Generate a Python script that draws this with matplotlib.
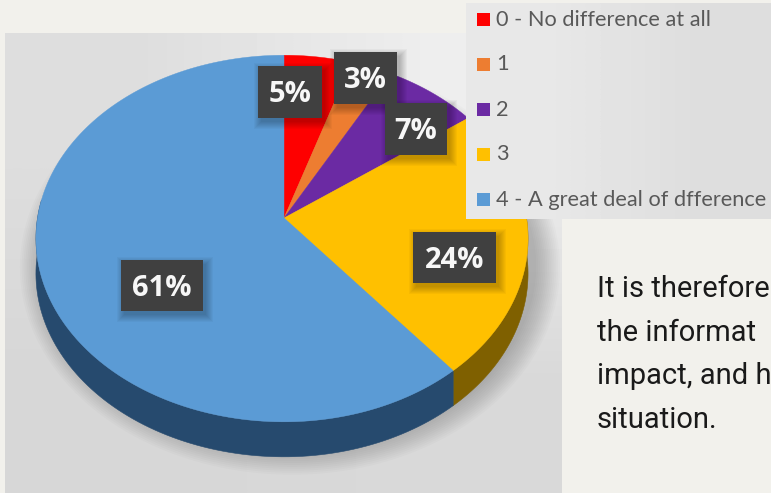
import numpy as np
import matplotlib
matplotlib.use("Agg")
import matplotlib.pyplot as plt
from matplotlib.patches import Polygon, Rectangle

# Survey responses
categories = ["0 - No difference at all", "1", "2", "3", "4 - A great deal of dfference"]
shares = [5, 3, 7, 24, 61]
share_labels = ["5%", "3%", "7%", "24%", "61%"]
slice_colors = ["#fe0000", "#ed7d31", "#6b2aa3", "#ffc000", "#5b9bd5"]
side_colors = ["#7f0000", "#77401a", "#38185a", "#7f6000", "#264a6e"]
body_lines = ["It is therefore", "the informat", "impact, and h", "situation."]

W, H = 771, 493
PAGE = "#f2f1ec"
APEX_X, APEX_Y = 284, 218
SCALE_LEFT, SCALE_RIGHT, SCALE_Y, PERSP = 246.5, 242.5, 181, 0.112
DEPTH = 35

# Centre and half-size of each value tag, in slice order
tag_centres = [(290, 92), (365.5, 78), (416, 129), (454.5, 257.5), (162, 285.5)]
tag_half = [(32, 26), (31.5, 26), (31, 26), (41.5, 25.5), (41, 25.5)]


def rim(theta):
    """Project angles (clockwise from 12 o'clock) onto the tilted disc's edge."""
    u, v = np.sin(theta), np.cos(theta)
    w = 1 + PERSP * v
    sx = np.where(u >= 0, SCALE_RIGHT, SCALE_LEFT)
    return APEX_X + sx * u / w, APEX_Y - SCALE_Y * v / w


def gradient(ax, box, corners, z):
    """Fill box=(x0,x1,y0,y1) with a bilinear blend of four grey levels."""
    x0, x1, y0, y1 = box
    ax.imshow(np.array(corners).reshape(2, 2), cmap="gray", vmin=0, vmax=1,
              extent=(x0, x1, y1, y0), interpolation="bilinear", aspect="auto", zorder=z)


def soft_shadow(ax, xs, ys, dx, dy, spread, alpha, z, steps=14):
    """Layered translucent outlines that build up a blurred drop shadow."""
    cx, cy = xs.mean(), ys.mean()
    rx, ry = np.ptp(xs) / 2, np.ptp(ys) / 2
    for i in range(steps):
        grow = spread * (1 - i / (steps - 1))
        sx, sy = (rx + grow) / rx, (ry + grow) / ry
        ax.add_patch(Polygon(np.c_[cx + dx + (xs - cx) * sx, cy + dy + (ys - cy) * sy],
                             closed=True, fc="black", ec="none", alpha=alpha, zorder=z))


fig = plt.figure(figsize=(W / 100, H / 100), dpi=100, facecolor=PAGE)
ax = fig.add_axes([0, 0, 1, 1])
ax.set_axis_off()

# Chart backdrop
gradient(ax, (5, 562, 33, 493), [0.87, 0.93, 0.84, 0.85], 1)

# Pie body: drop shadow, then the extruded side wall, then the top slices
edges = np.radians(np.r_[0, np.cumsum(shares)] * 3.6)
full = np.linspace(0, 2 * np.pi, 360)
ox, oy = rim(full)
soft_shadow(ax, ox, oy + DEPTH / 2, 8, 10, 24, 0.017, 2)

for a, b, col in zip(edges[:-1], edges[1:], side_colors):
    t = np.linspace(a, b, 160)
    t = t[np.cos(t) <= 0.12]
    if t.size < 2:
        continue
    x, y = rim(t)
    wall = np.r_[np.c_[x, y], np.c_[x, y + DEPTH][::-1]]
    ax.add_patch(Polygon(wall, closed=True, fc=col, ec=col, lw=0.4, zorder=3))

for a, b, col in zip(edges[:-1], edges[1:], slice_colors):
    x, y = rim(np.linspace(a, b, 160))
    pts = np.r_[[(APEX_X, APEX_Y)], np.c_[x, y]]
    ax.add_patch(Polygon(pts, closed=True, fc=col, ec=col, lw=0.3, zorder=4))

# Value tags
for text, (cx, cy), (hw, hh) in zip(share_labels, tag_centres, tag_half):
    bx = np.array([cx - hw, cx + hw, cx + hw, cx - hw])
    by = np.array([cy - hh, cy - hh, cy + hh, cy + hh])
    soft_shadow(ax, bx, by, 3, 4, 7, 0.03, 5, steps=8)
for text, (cx, cy), (hw, hh) in zip(share_labels, tag_centres, tag_half):
    ax.add_patch(Rectangle((cx - hw, cy - hh), 2 * hw, 2 * hh, fc="#404040", ec="none", zorder=6))
    ax.text(cx, cy + 2.5, text, color="#f7f7f7", fontsize=21, fontweight="bold",
            family="Open Sans", ha="center", va="center", zorder=7)

# Legend panel sits over the pie's upper right
gradient(ax, (466, 771, 3, 219), [0.91, 0.87, 0.91, 0.87], 8)
for i, (name, col) in enumerate(zip(categories, slice_colors)):
    yc = 19 + 45 * i
    ax.add_patch(Rectangle((477, yc - 6), 12.5, 12.5, fc=col, ec="none", zorder=9))
    ax.text(496, yc + 0.5, name, color="#595959", fontsize=15.7, family="Lato",
            ha="left", va="center", zorder=9)

# Body copy, up to the right edge
for i, line in enumerate(body_lines):
    ax.text(597, 297 + 43.6 * i, line, color="#1a1a1a", fontsize=21, family="Roboto",
            ha="left", va="baseline", zorder=9)

ax.set_xlim(0, W)
ax.set_ylim(H, 0)
fig.savefig("out.png", dpi=100, facecolor=PAGE)
